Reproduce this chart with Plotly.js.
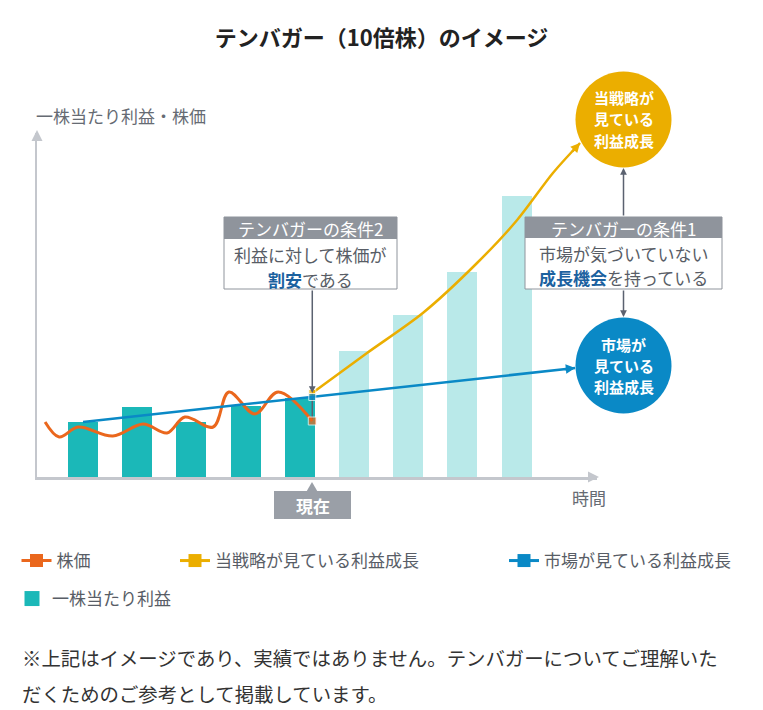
<!DOCTYPE html>
<html><head><meta charset="utf-8">
<script src="https://cdn.plot.ly/plotly-3.0.1.min.js"></script>
<style>html,body{margin:0;padding:0;background:#fff;} #chart{width:763px;height:710px;}</style>
</head><body><div id="chart"></div>
<script>
// ---------- data ----------
const periods = [1, 2, 3, 4, 5, 6, 7, 8, 9];
const eps = [55, 70, 55, 71, 79, 126, 162, 205, 281];
const actualCount = 5;
const priceX = [0.30, 0.56, 0.91, 1.55, 2.11, 2.55, 2.88, 3.40, 3.69, 4.17, 4.60, 5.23];
const priceY = [55, 40, 50, 41, 53, 44, 60, 50, 85, 63, 85, 56];
const strategyX = [5.23, 6.24, 7.27, 8.27, 9.01, 9.67, 10.17];
const strategyY = [84, 124, 164, 214, 257, 304, 334];
const marketX = [1.0, 5.23, 10.08];
const marketY = [55, 80, 109];
const names = ['株価', '当戦略が見ている利益成長', '市場が見ている利益成長', '一株当たり利益'];

// ---------- layout helpers ----------
const FONT = '"Noto Sans CJK JP", "Noto Sans", sans-serif';
const L = 37, T = 133, W = 560, H = 344;
const xp = px => (px - L) / W;
const yp = py => (T + H - py) / H;
const ypx = v => T + H - v; // data value -> pixel (1 unit = 1 px)

const C = {
  teal: '#1bb8b8', tealLight: '#b9e9e9', orange: '#ea671d', yellow: '#ebae00',
  blue: '#0a89c6', gray: '#8f949c', dark: '#5b6270', axis: '#c4c7cd',
  text: '#585d66', boldBlue: '#1b619f'
};
const last = priceX.length - 1;

const traces = [
  {
    type: 'bar', x: periods, y: eps, width: 0.553, name: names[3], showlegend: false,
    marker: {color: periods.map((p, i) => i < actualCount ? C.teal : C.tealLight), line: {width: 0}},
    hoverinfo: 'skip'
  },
  // "now" connector between price and growth points
  {
    type: 'scatter', mode: 'lines', x: [priceX[last], priceX[last]], y: [priceY[last], strategyY[0]],
    showlegend: false, line: {color: C.dark, width: 1.5}, hoverinfo: 'skip'
  },
  {
    type: 'scatter', mode: 'lines+markers', x: priceX, y: priceY, name: names[0], showlegend: false,
    line: {color: C.orange, width: 3, shape: 'spline', smoothing: 1},
    marker: {symbol: 'square', color: C.orange, size: priceX.map((v, i) => i === last ? 8 : 0)}
  },
  {
    type: 'scatter', mode: 'lines+markers', x: strategyX, y: strategyY, name: names[1], showlegend: false,
    line: {color: C.yellow, width: 2.5, shape: 'spline', smoothing: 0.8},
    marker: {symbol: 'square', color: C.yellow, size: strategyX.map((v, i) => i === 0 ? 7 : 0)}
  },
  {
    type: 'scatter', mode: 'lines+markers', x: marketX, y: marketY, name: names[2], showlegend: false,
    line: {color: C.blue, width: 2.5},
    marker: {symbol: 'square', color: C.blue, size: marketX.map((v, i) => i === 1 ? 7 : 0)}
  },
  // legend entries
  {type: 'scatter', mode: 'lines+markers', x: [null], y: [null], name: names[0], legend: 'legend',
    line: {color: C.orange, width: 3}, marker: {symbol: 'square', color: C.orange, size: 13}},
  {type: 'scatter', mode: 'lines+markers', x: [null], y: [null], name: names[1], legend: 'legend2',
    line: {color: C.yellow, width: 3}, marker: {symbol: 'square', color: C.yellow, size: 13}},
  {type: 'scatter', mode: 'lines+markers', x: [null], y: [null], name: names[2], legend: 'legend3',
    line: {color: C.blue, width: 3}, marker: {symbol: 'square', color: C.blue, size: 13}},
  {type: 'scatter', mode: 'markers', x: [null], y: [null], name: names[3], legend: 'legend4',
    marker: {symbol: 'square', color: C.teal, size: 15}}
];

const shapes = [];
const ann = [];
function rect(x0, y0, x1, y1, fill, line) {
  shapes.push({type: 'rect', xref: 'paper', yref: 'paper', x0: xp(x0), x1: xp(x1), y0: yp(y1), y1: yp(y0),
    fillcolor: fill, line: line ? {color: line, width: 1} : {width: 0}, layer: 'above'});
}
function tri(pts, color) {
  const d = pts.map((p, i) => (i ? 'L' : 'M') + xp(p[0]) + ' ' + yp(p[1])).join(' ') + ' Z';
  shapes.push({type: 'path', xref: 'paper', yref: 'paper', path: d, fillcolor: color, line: {width: 0}, layer: 'above'});
}
function text(px, py, t, size, color, anchor) {
  ann.push({xref: 'paper', yref: 'paper', x: xp(px), y: yp(py), text: t, showarrow: false,
    xanchor: anchor || 'center', yanchor: 'middle', font: {family: FONT, size: size, color: color}});
}
function circle(cx, cy, r, color) {
  shapes.push({type: 'circle', xref: 'paper', yref: 'paper', x0: xp(cx - r), x1: xp(cx + r), y0: yp(cy + r), y1: yp(cy - r),
    fillcolor: color, line: {width: 0}, layer: 'above'});
}

// axis arrow tips
tri([[37, 130], [31.5, 141], [42.5, 141]], C.axis);
tri([[599, 477], [588, 471.5], [588, 482.5]], C.axis);

// box 2
rect(224, 217, 397, 289, '#ffffff', C.gray);
rect(224, 217, 397, 239, C.gray, null);
text(310.5, 228, 'テンバガーの条件2', 17, '#ffffff');
text(310.5, 254, '利益に対して株価が', 17, C.text);
text(310.5, 279, '<b><span style="color:' + C.boldBlue + '">割安</span></b>である', 17, C.text);
// arrow from box 2 to now point
ann.push({xref: 'x', yref: 'y', x: priceX[last], y: strategyY[0], ax: 0, ay: -(ypx(strategyY[0]) - 289), text: '',
  showarrow: true, arrowhead: 2, arrowsize: 0.9, arrowwidth: 1.5, arrowcolor: C.dark, standoff: 0});

// box 1
rect(525, 217, 722, 289, '#ffffff', C.gray);
rect(525, 217, 722, 238, C.gray, null);
text(623.5, 228, 'テンバガーの条件1', 17, '#ffffff');
text(623.5, 253, '市場が気づいていない', 17, C.text);
text(623.5, 277.5, '<b><span style="color:' + C.boldBlue + '">成長機会</span></b>を持っている', 17, C.text);
ann.push({xref: 'paper', yref: 'paper', x: xp(623.5), y: yp(168), ax: 0, ay: 49, text: '', showarrow: true,
  arrowhead: 2, arrowsize: 0.9, arrowwidth: 1.5, arrowcolor: C.dark, standoff: 0});
ann.push({xref: 'paper', yref: 'paper', x: xp(623.5), y: yp(317), ax: 0, ay: -28, text: '', showarrow: true,
  arrowhead: 2, arrowsize: 0.9, arrowwidth: 1.5, arrowcolor: C.dark, standoff: 0});

// circles
circle(623.5, 119.5, 48, C.yellow);
circle(623.5, 365.5, 48, C.blue);
['当戦略が', '見ている', '利益成長'].forEach((t, i) => text(623.5, 97.5 + i * 21.3, '<b>' + t + '</b>', 15, '#ffffff'));
['市場が', '見ている', '利益成長'].forEach((t, i) => text(623.5, 344 + i * 21.3, '<b>' + t + '</b>', 15, '#ffffff'));

// line end arrowheads
ann.push({xref: 'x', yref: 'y', x: marketX[marketX.length - 1], y: marketY[marketY.length - 1], ax: -12, ay: 1.3, text: '',
  showarrow: true, arrowhead: 2, arrowsize: 0.75, arrowwidth: 2.5, arrowcolor: C.blue, standoff: 0});
ann.push({xref: 'x', yref: 'y', x: strategyX[strategyX.length - 1], y: strategyY[strategyY.length - 1], ax: -9, ay: 10, text: '',
  showarrow: true, arrowhead: 2, arrowsize: 0.75, arrowwidth: 2.5, arrowcolor: C.yellow, standoff: 0});

// 現在 label
rect(274, 491, 351, 519, '#9a9fa7', null);
tri([[312, 482], [306.5, 491.5], [317.5, 491.5]], '#9a9fa7');
text(312.5, 505, '<b>現在</b>', 17, '#ffffff');

// axis labels
text(34, 116, '一株当たり利益・株価', 17, '#666b73', 'left');
text(588.5, 497, '時間', 17, '#666b73');

// footnote
text(20, 657, '※上記はイメージであり、実績ではありません。テンバガーについてご理解いた', 19.4, '#333333', 'left');
text(20, 693, 'だくためのご参考として掲載しています。', 19.4, '#333333', 'left');

const legendBase = {orientation: 'v', xanchor: 'left', yanchor: 'middle', bgcolor: 'rgba(0,0,0,0)',
  font: {family: FONT, size: 17, color: C.text}, itemwidth: 30, borderwidth: 0};

const layout = {
  width: 763, height: 710,
  margin: {l: L, r: 763 - L - W, t: T, b: 710 - T - H, autoexpand: false},
  paper_bgcolor: '#ffffff', plot_bgcolor: '#ffffff',
  font: {family: FONT, color: C.text},
  title: {text: '<b>テンバガー（10倍株）のイメージ</b>', x: 0.5, xanchor: 'center', xref: 'container',
    y: 1 - 38 / 710, yanchor: 'middle', yref: 'container', font: {family: FONT, size: 22, color: '#222222'}},
  xaxis: {range: [0.151, 10.483], showgrid: false, zeroline: false, showticklabels: false, ticks: '',
    showline: true, linecolor: C.axis, linewidth: 3, fixedrange: true},
  yaxis: {range: [0, 344], showgrid: false, zeroline: false, showticklabels: false, ticks: '',
    showline: true, linecolor: C.axis, linewidth: 2.5, fixedrange: true},
  bargap: 0,
  showlegend: true,
  legend: Object.assign({}, legendBase, {x: xp(16.5), y: yp(561)}),
  legend2: Object.assign({}, legendBase, {x: xp(175), y: yp(561)}),
  legend3: Object.assign({}, legendBase, {x: xp(504), y: yp(561)}),
  legend4: Object.assign({}, legendBase, {x: xp(12), y: yp(599)}),
  shapes: shapes,
  annotations: ann
};

Plotly.newPlot('chart', traces, layout, {displayModeBar: false, staticPlot: true});
</script>
</body></html>
